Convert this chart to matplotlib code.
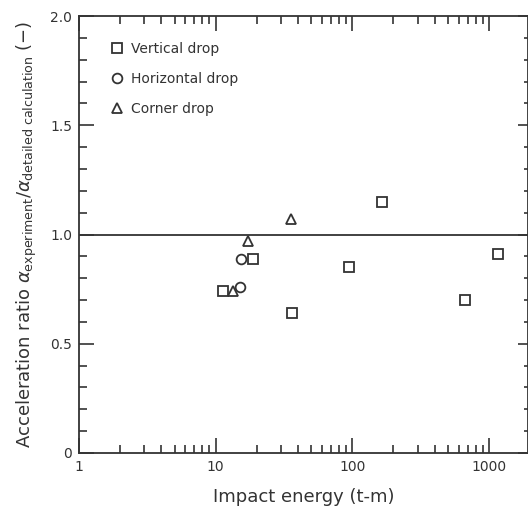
import matplotlib
matplotlib.use("Agg")
import matplotlib.pyplot as plt
import numpy as np
from matplotlib.ticker import FixedLocator, FixedFormatter, LogLocator, NullFormatter, MultipleLocator

plt.rcParams['font.family'] = ['DejaVu Sans']
plt.rcParams['mathtext.fontset'] = 'dejavusans'

# impact energy (t-m) and acceleration ratio for each drop type
vert_x = [11.4, 18.8, 36, 94, 164, 666, 1156]
vert_y = [0.74, 0.89, 0.64, 0.85, 1.15, 0.70, 0.91]
horiz_x = [15.3, 15.0]
horiz_y = [0.89, 0.76]
corner_x = [13.5, 17.3, 35.6]
corner_y = [0.74, 0.97, 1.07]

yticks = [0, 0.5, 1.0, 1.5, 2.0]
ytick_labels = ['0', '0.5', '1.0', '1.5', '2.0']
xticks = [1, 10, 100, 1000]
xtick_labels = ['1', '10', '100', '1000']

fig = plt.figure(figsize=(5.28, 5.16), dpi=100)
ax = fig.add_axes([79/528, 1 - 453/516, 1 - 79/528, (453 - 16)/516])

mk = dict(linestyle='none', markerfacecolor='white', markeredgecolor='#333333',
          markeredgewidth=1.3, color='#333333')
ax.plot(vert_x, vert_y, marker='s', markersize=6.5, label='Vertical drop', **mk)
ax.plot(horiz_x, horiz_y, marker='o', markersize=7, label='Horizontal drop', **mk)
ax.plot(corner_x, corner_y, marker='^', markersize=7, label='Corner drop', **mk)

ax.axhline(1.0, color='#333333', lw=1.3, zorder=1)

ax.set_xscale('log')
ax.set_xlim(1, 1930)
ax.set_ylim(0, 2.0)

ax.xaxis.set_major_locator(FixedLocator(xticks))
ax.xaxis.set_major_formatter(FixedFormatter(xtick_labels))
ax.xaxis.set_minor_locator(LogLocator(base=10, subs=np.arange(2, 10)))
ax.xaxis.set_minor_formatter(NullFormatter())
ax.yaxis.set_major_locator(FixedLocator(yticks))
ax.yaxis.set_major_formatter(FixedFormatter(ytick_labels))
ax.yaxis.set_minor_locator(MultipleLocator(0.1))

ax.tick_params(which='both', direction='in', top=True, right=False, colors='#333333',
               labelcolor='#333333', labelsize=10)
ax.tick_params(which='major', length=11, width=1.2, pad=5)
ax.tick_params(which='minor', length=6, width=1.2)
for s in ax.spines.values():
    s.set_linewidth(1.3)
    s.set_color('#333333')

# right side has shorter ticks
ax2 = ax.twinx()
ax2.set_ylim(ax.get_ylim())
ax2.yaxis.set_major_locator(FixedLocator(yticks))
ax2.yaxis.set_minor_locator(MultipleLocator(0.1))
ax2.yaxis.set_major_formatter(NullFormatter())
ax2.tick_params(which='both', direction='in', colors='#333333', width=1.2)
ax2.tick_params(which='major', length=7)
ax2.tick_params(which='minor', length=3)
for s in ax2.spines.values():
    s.set_visible(False)

ax.set_xlabel('Impact energy (t-m)', fontsize=13, color='#333333', labelpad=10)
ax.set_ylabel(r'Acceleration ratio $\alpha_{\mathrm{experiment}}/\alpha_{\mathrm{detailed\ calculation}}$ (−)',
              fontsize=13, color='#333333', labelpad=8)

leg = ax.legend(loc='upper left', bbox_to_anchor=(0.057, 0.953), frameon=False, fontsize=10,
                handletextpad=0.5, labelspacing=1.15, borderaxespad=0, handlelength=1.0)
for t in leg.get_texts():
    t.set_color('#333333')

fig.savefig('out.png', dpi=100)
